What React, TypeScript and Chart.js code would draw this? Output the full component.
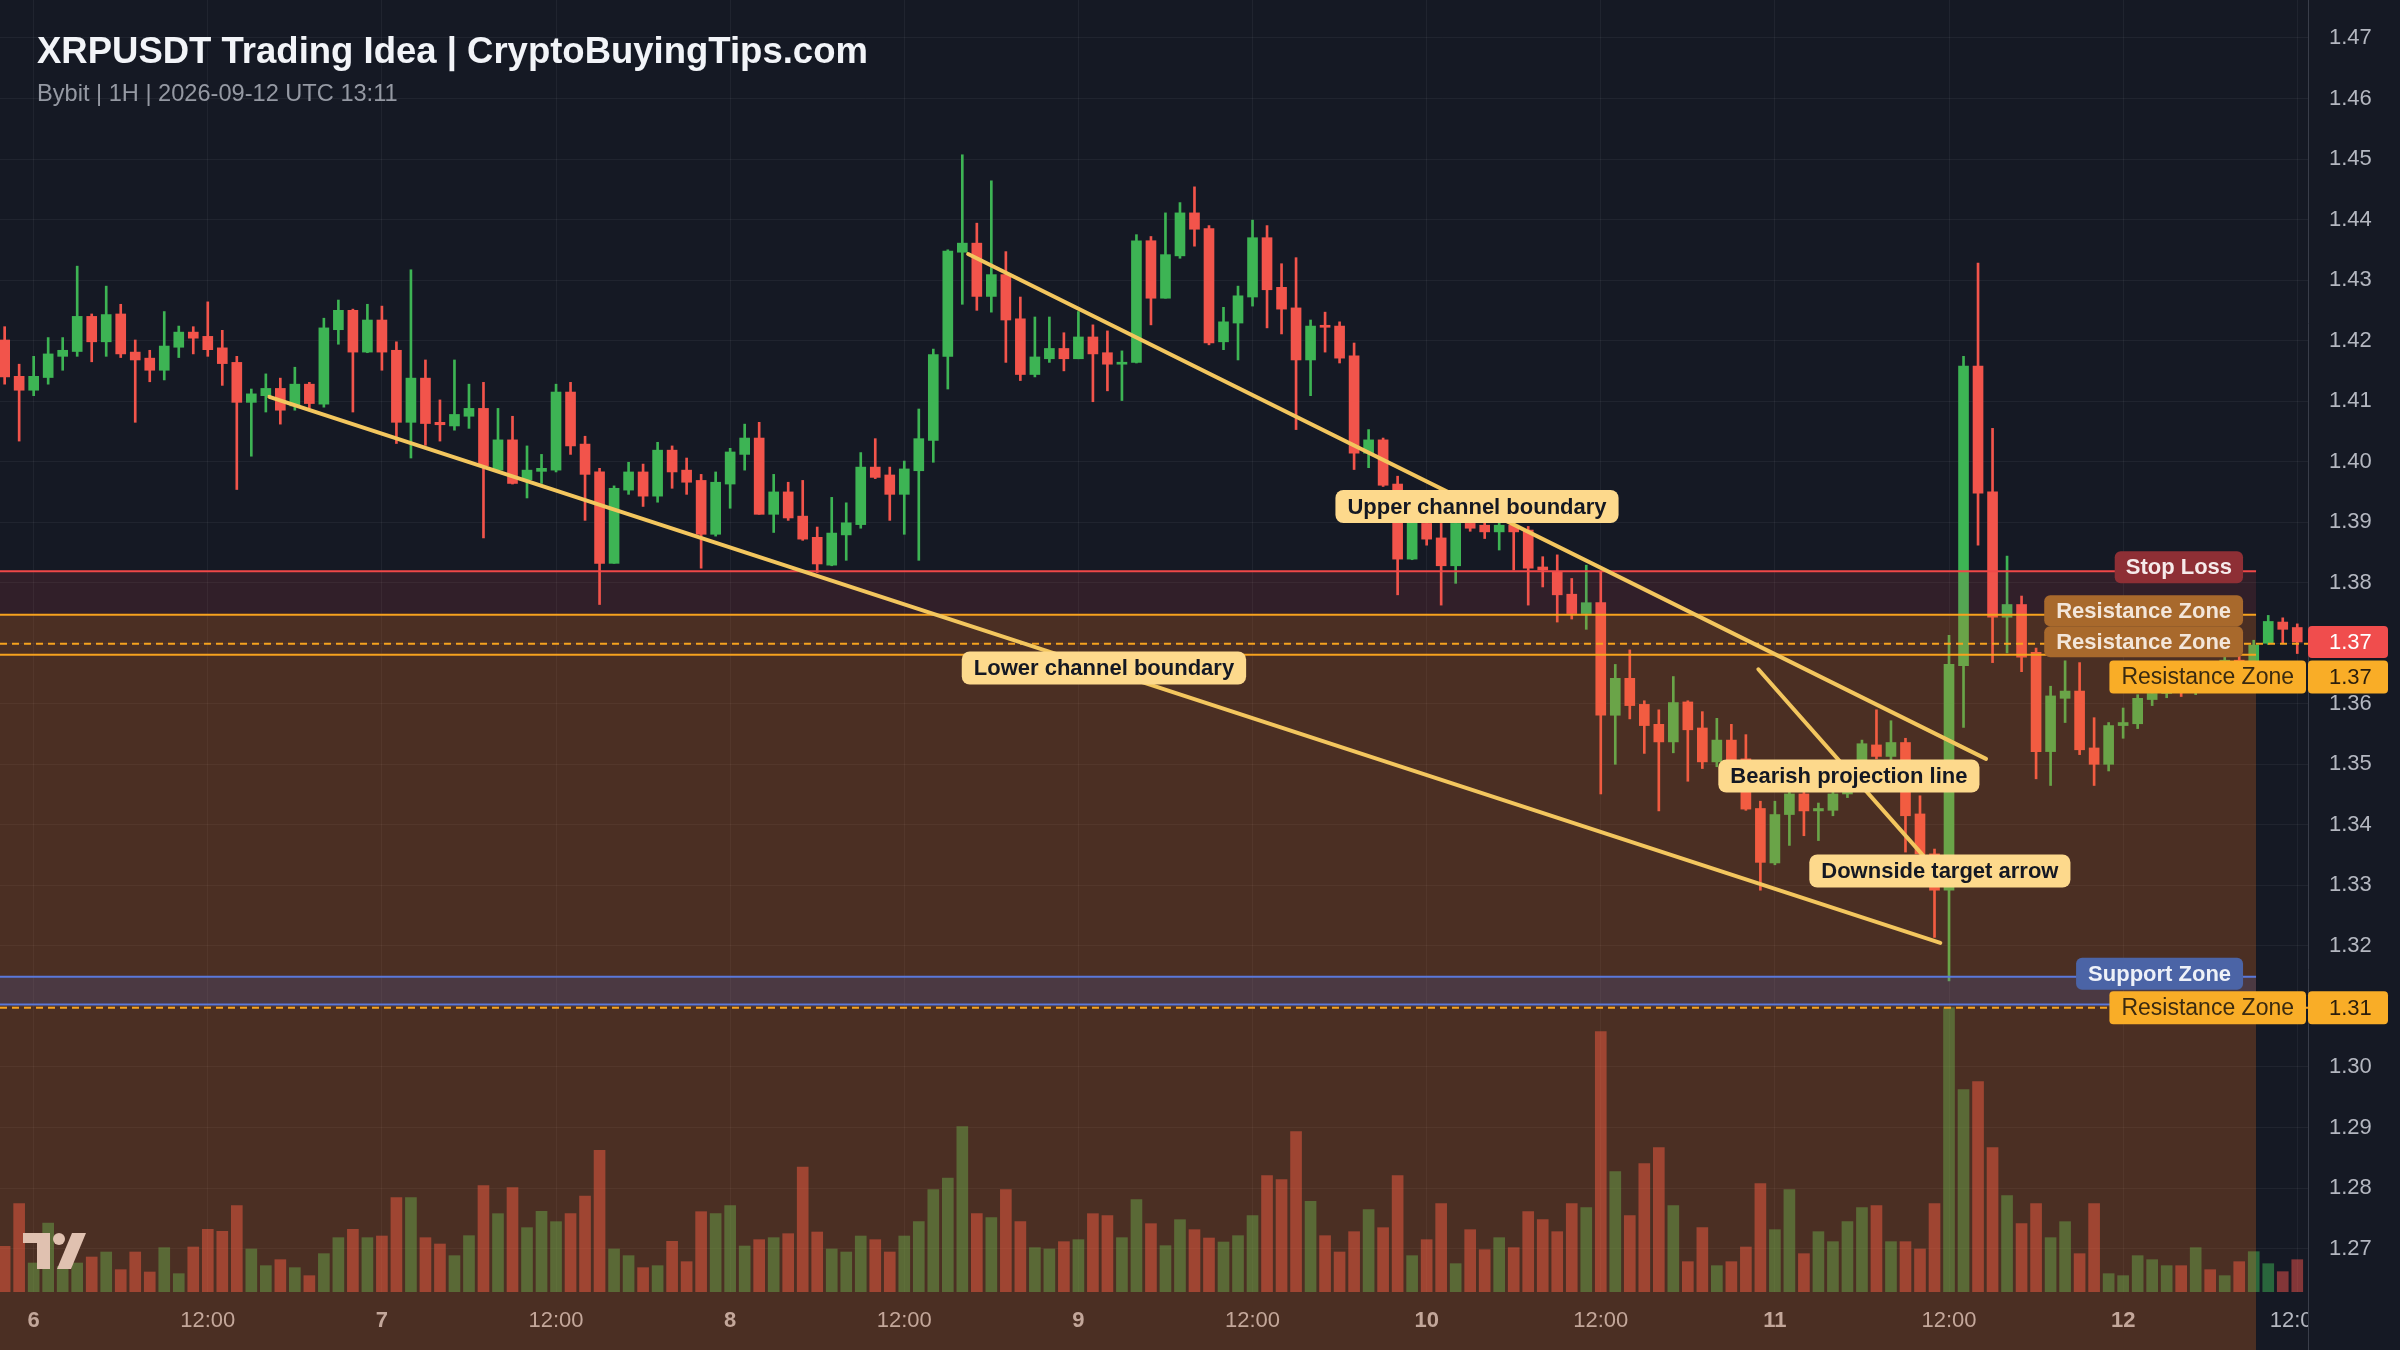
import React, { useEffect, useRef } from "react";
import { Chart, registerables } from "chart.js";

Chart.register(...registerables);

const FONT = "'Liberation Sans', Arial, Helvetica, sans-serif";

// ---------- DATA ----------
// hours relative to 2026-09-06 00:00 UTC (1H candles)
const FIRST_CANDLE_HOUR = -2;
const X_MIN = -2.32;
const X_MAX = 156.74;
const PRICE_MIN = 1.26282;
const PRICE_MAX = 1.47627;
const VOLUME_AXIS_MAX = 3876;

const OPEN = [
  1.4201, 1.4141, 1.4118, 1.4139, 1.4174, 1.4182, 1.424, 1.4198, 1.4244, 1.4181,
  1.4171, 1.4151, 1.4189, 1.4214, 1.4207, 1.4188, 1.4164, 1.4098, 1.4109, 1.4121,
  1.4092, 1.4128, 1.4095, 1.4218, 1.425, 1.4181, 1.4234, 1.4184, 1.4065, 1.4138,
  1.4065, 1.4059, 1.4075, 1.4088, 1.3986, 1.4036, 1.397, 1.3984, 1.3986, 1.4115,
  1.4029, 1.3983, 1.3832, 1.3953, 1.3983, 1.3943, 1.4019, 1.3986, 1.3969, 1.388,
  1.3963, 1.4012, 1.4039, 1.3913, 1.395, 1.391, 1.3875, 1.3829, 1.3879, 1.3896,
  1.3991, 1.3978, 1.3946, 1.3985, 1.4035, 1.4174, 1.4346, 1.4361, 1.4273, 1.4309,
  1.4236, 1.4144, 1.417, 1.4187, 1.417, 1.4206, 1.418, 1.4161, 1.4164, 1.4365,
  1.427, 1.434, 1.4411, 1.4385, 1.4198, 1.4229, 1.4272, 1.437, 1.4288, 1.4254,
  1.4168, 1.4224, 1.4224, 1.4175, 1.4014, 1.4036, 1.3963, 1.3839, 1.3898, 1.3874,
  1.3828, 1.3898, 1.3895, 1.3884, 1.3895, 1.3887, 1.3826, 1.3818, 1.3781, 1.3749,
  1.3767, 1.3581, 1.3642, 1.3599, 1.3566, 1.3537, 1.3603, 1.356, 1.3504, 1.354,
  1.3509, 1.3427, 1.3337, 1.3417, 1.3451, 1.3423, 1.3424, 1.3451, 1.348, 1.3532,
  1.3513, 1.3536, 1.3418, 1.3352, 1.3292, 1.3663, 1.4158, 1.395, 1.3743, 1.3764,
  1.3685, 1.3521, 1.3609, 1.3621, 1.3527, 1.35, 1.3564, 1.3567, 1.3607, 1.3617,
  1.363, 1.3622, 1.3645, 1.3638, 1.3672, 1.3665, 1.37, 1.3735, 1.3726,
];
const HIGH = [
  1.4223, 1.4161, 1.4174, 1.4205, 1.4205, 1.4323, 1.4244, 1.429, 1.426, 1.4201,
  1.4184, 1.4248, 1.4224, 1.4223, 1.4264, 1.4217, 1.4174, 1.412, 1.4145, 1.4138,
  1.4156, 1.4131, 1.4237, 1.4267, 1.4252, 1.426, 1.4257, 1.4198, 1.4317, 1.4168,
  1.4102, 1.4168, 1.4128, 1.4131, 1.4088, 1.4075, 1.4026, 1.4012, 1.4128, 1.4131,
  1.4042, 1.3989, 1.396, 1.3999, 1.3996, 1.4032, 1.4026, 1.4006, 1.3979, 1.3983,
  1.4022, 1.4062, 1.4065, 1.3979, 1.3966, 1.3969, 1.3892, 1.3941, 1.3932, 1.4015,
  1.4038, 1.3991, 1.4001, 1.4087, 1.4186, 1.435, 1.4507, 1.4394, 1.4464, 1.4347,
  1.4272, 1.4239, 1.4239, 1.4213, 1.4248, 1.4226, 1.4216, 1.4183, 1.4375, 1.4372,
  1.4411, 1.4428, 1.4454, 1.439, 1.4255, 1.429, 1.4399, 1.439, 1.4327, 1.4337,
  1.4234, 1.4247, 1.4231, 1.4196, 1.4053, 1.4039, 1.3976, 1.3935, 1.3905, 1.3898,
  1.39, 1.3905, 1.39, 1.39, 1.39, 1.3893, 1.3843, 1.3846, 1.3807, 1.3829,
  1.3818, 1.3665, 1.3689, 1.3605, 1.359, 1.3645, 1.3605, 1.3587, 1.3576, 1.3566,
  1.3549, 1.3439, 1.3439, 1.3457, 1.3457, 1.3436, 1.3457, 1.35, 1.354, 1.359,
  1.3572, 1.3543, 1.3448, 1.336, 1.3713, 1.4174, 1.4328, 1.4055, 1.3844, 1.3778,
  1.3692, 1.3629, 1.3671, 1.3668, 1.3577, 1.3569, 1.3593, 1.3615, 1.3625, 1.3645,
  1.365, 1.366, 1.3662, 1.368, 1.3685, 1.3705, 1.3746, 1.3742, 1.3732,
];
const LOW = [
  1.4128, 1.4034, 1.4109, 1.4128, 1.4151, 1.4174, 1.4165, 1.4174, 1.4172, 1.4065,
  1.4132, 1.4135, 1.4172, 1.4178, 1.4174, 1.4126, 1.3954, 1.4009, 1.4082, 1.4062,
  1.4085, 1.4088, 1.409, 1.4194, 1.4082, 1.418, 1.4151, 1.403, 1.4006, 1.4027,
  1.4034, 1.4052, 1.4055, 1.3874, 1.3985, 1.3963, 1.394, 1.3964, 1.3983, 1.4012,
  1.3903, 1.3764, 1.3832, 1.3946, 1.3926, 1.3933, 1.3956, 1.3946, 1.3824, 1.3877,
  1.3923, 1.3986, 1.3913, 1.3883, 1.3903, 1.387, 1.3817, 1.3828, 1.3837, 1.389,
  1.3972, 1.3903, 1.388, 1.3837, 1.3999, 1.412, 1.426, 1.425, 1.4247, 1.4164,
  1.4134, 1.414, 1.4164, 1.415, 1.417, 1.4099, 1.4117, 1.4101, 1.4163, 1.4226,
  1.427, 1.4336, 1.4356, 1.4193, 1.4185, 1.4168, 1.4257, 1.4221, 1.4211, 1.4053,
  1.4109, 1.4181, 1.4163, 1.3987, 1.399, 1.3959, 1.378, 1.3838, 1.3862, 1.3763,
  1.3799, 1.3885, 1.3873, 1.3854, 1.3821, 1.3763, 1.3793, 1.3735, 1.374, 1.3723,
  1.3451, 1.35, 1.3575, 1.3518, 1.3423, 1.3519, 1.3472, 1.3493, 1.3496, 1.3491,
  1.3424, 1.3292, 1.3334, 1.3366, 1.3382, 1.3374, 1.3415, 1.3445, 1.3475, 1.3509,
  1.3506, 1.3355, 1.334, 1.3214, 1.3142, 1.3561, 1.3862, 1.3668, 1.3684, 1.3653,
  1.3476, 1.3465, 1.3569, 1.3516, 1.3465, 1.3489, 1.3543, 1.3559, 1.3597, 1.361,
  1.3612, 1.3615, 1.3625, 1.363, 1.3655, 1.366, 1.3698, 1.37, 1.3683,
];
const CLOSE = [
  1.414, 1.4118, 1.4141, 1.4178, 1.4184, 1.424, 1.4198, 1.4243, 1.4178, 1.4168,
  1.4151, 1.4191, 1.4214, 1.4204, 1.4185, 1.4162, 1.4098, 1.4112, 1.4121, 1.4085,
  1.4128, 1.4096, 1.4221, 1.425, 1.4181, 1.4234, 1.4181, 1.4065, 1.4138, 1.4063,
  1.4061, 1.4078, 1.4088, 1.3993, 1.4036, 1.3964, 1.3986, 1.3989, 1.4115, 1.4026,
  1.3979, 1.3832, 1.3956, 1.3983, 1.3943, 1.4019, 1.3983, 1.3966, 1.388, 1.3966,
  1.4016, 1.4039, 1.3913, 1.395, 1.3907, 1.3872, 1.3831, 1.3882, 1.3899, 1.3991,
  1.3974, 1.3946, 1.3988, 1.4038, 1.4177, 1.4348, 1.4361, 1.4273, 1.4309, 1.4234,
  1.4144, 1.4173, 1.4187, 1.417, 1.4206, 1.4178, 1.4161, 1.4164, 1.4365, 1.427,
  1.4342, 1.4411, 1.4384, 1.4196, 1.4231, 1.4274, 1.437, 1.4284, 1.4252, 1.4168,
  1.4224, 1.4222, 1.4171, 1.4014, 1.4036, 1.3961, 1.3839, 1.3915, 1.3872, 1.3828,
  1.3898, 1.389, 1.3884, 1.3895, 1.3884, 1.3824, 1.3821, 1.378, 1.3749, 1.3767,
  1.3581, 1.3642, 1.3597, 1.3564, 1.3537, 1.3602, 1.3557, 1.3504, 1.354, 1.3506,
  1.3426, 1.3338, 1.3417, 1.3451, 1.3423, 1.3427, 1.3451, 1.348, 1.3534, 1.3513,
  1.3536, 1.3415, 1.3352, 1.3292, 1.3665, 1.4158, 1.3948, 1.3743, 1.3764, 1.3677,
  1.3521, 1.3613, 1.3621, 1.3524, 1.35, 1.3564, 1.3569, 1.3609, 1.3617, 1.363,
  1.3622, 1.3645, 1.3638, 1.3672, 1.3665, 1.3697, 1.3736, 1.3723, 1.3702,
];
const VOLUME = [
  137, 265, 87, 207, 77, 87, 105, 120, 67, 120,
  60, 133, 55, 135, 188, 182, 259, 129, 79, 97,
  73, 49, 115, 163, 188, 163, 168, 283, 283, 163,
  144, 109, 169, 319, 235, 313, 193, 242, 211, 235,
  288, 425, 129, 109, 73, 79, 152, 91, 241, 235,
  259, 138, 157, 163, 175, 375, 180, 129, 120, 168,
  157, 120, 168, 211, 307, 342, 496, 235, 223, 307,
  211, 133, 129, 151, 157, 235, 229, 163, 277, 205,
  139, 217, 187, 162, 150, 169, 229, 349, 337, 481,
  272, 169, 120, 181, 247, 193, 349, 109, 157, 265,
  85, 187, 127, 163, 133, 241, 217, 181, 265, 253,
  781, 361, 229, 385, 433, 259, 91, 193, 79, 91,
  135, 325, 187, 307, 115, 181, 151, 211, 253, 259,
  151, 151, 129, 265, 853, 607, 631, 433, 289, 205,
  265, 163, 211, 115, 265, 55, 49, 109, 97, 79,
  79, 133, 67, 49, 91, 121, 85, 61, 97,
];

// trend lines (hour, price)
const LOWER_CHANNEL_X = [16.24, 131.4];
const LOWER_CHANNEL_Y = [1.4107, 1.3205];
const UPPER_CHANNEL_X = [64.4, 134.55];
const UPPER_CHANNEL_Y = [1.4343, 1.3509];
const BEARISH_X = [118.86, 130.3];
const BEARISH_Y = [1.3657, 1.3347];

// annotation captions (centre hour, centre price)
const NOTE_TEXT = ["Upper channel boundary", "Lower channel boundary", "Bearish projection line", "Downside target arrow"];
const NOTE_X = [99.47, 73.76, 125.1, 131.37];
const NOTE_Y = [1.39259, 1.36591, 1.34807, 1.33237];

// levels
const STOP_LOSS = 1.3819;
const RESISTANCE_TOP = 1.3747;
const RESISTANCE_MID = 1.3699;
const RESISTANCE_LOW = 1.3681;
const SUPPORT_TOP = 1.3149;
const SUPPORT_BOTTOM = 1.3103;
const RESISTANCE_FLOOR = 1.3098;
const ZONE_END_HOUR = 153.16;
const LAST_PRICE = CLOSE[CLOSE.length - 1];

const TITLE = "XRPUSDT Trading Idea | CryptoBuyingTips.com";
const SUBTITLE = "Bybit | 1H | 2026-09-12 UTC 13:11";

// ---------- STYLE ----------
const BG = "#151924";
const UP = "#3db454";
const DOWN = "#f2544b";
const UP_VOL = "rgba(61,180,84,0.5)";
const DOWN_VOL = "rgba(242,84,75,0.5)";
const GRID = "rgba(255,255,255,0.05)";
const TICK = "#b4b7c0";
const TREND = "#f3c65e";
const ORANGE = "#f6a21e";
const RED_LINE = "#f04848";
const BLUE_LINE = "#5a78da";
const AXIS_LINE = "#3a3e4a";

function pill(ctx: CanvasRenderingContext2D, text: string, font: string, x: number, cy: number, h: number, padX: number, bg: string, fg: string, r: number, anchor: "right" | "left" | "center") {
  ctx.font = font;
  const w = ctx.measureText(text).width + padX * 2;
  let left = x;
  if (anchor === "right") left = x - w;
  if (anchor === "center") left = x - w / 2;
  ctx.fillStyle = bg;
  ctx.beginPath();
  (ctx as any).roundRect(left, cy - h / 2, w, h, r);
  ctx.fill();
  ctx.fillStyle = fg;
  ctx.textBaseline = "middle";
  ctx.textAlign = "left";
  ctx.fillText(text, left + padX, cy + 1);
}

function tag(ctx: CanvasRenderingContext2D, text: string, x0: number, x1: number, cy: number, h: number, bg: string, fg: string, font: string, textX: number) {
  ctx.fillStyle = bg;
  ctx.beginPath();
  (ctx as any).roundRect(x0, cy - h / 2, x1 - x0, h, 4);
  ctx.fill();
  ctx.font = font;
  ctx.fillStyle = fg;
  ctx.textBaseline = "middle";
  ctx.textAlign = "left";
  ctx.fillText(text, textX, cy + 1);
}

const overlayPlugin = {
  id: "overlays",
  afterDatasetDraw(chart: any, args: any) {
    const label = chart.data.datasets[args.index].label;
    const ctx: CanvasRenderingContext2D = chart.ctx;
    if (label === "Volume") {
      // TradingView style watermark
      ctx.save();
      ctx.fillStyle = "#d9d9de";
      ctx.fillRect(23, 1233, 27, 10);
      ctx.fillRect(37, 1233, 13, 36);
      ctx.beginPath();
      ctx.arc(59, 1239, 6, 0, Math.PI * 2);
      ctx.fill();
      ctx.beginPath();
      ctx.moveTo(72, 1233);
      ctx.lineTo(86, 1233);
      ctx.lineTo(71, 1269);
      ctx.lineTo(57, 1269);
      ctx.closePath();
      ctx.fill();
      ctx.restore();
    }
    if (label !== "Candle bodies") return;
    const x = chart.scales.x;
    const y = chart.scales.y;
    const right = x.getPixelForValue(ZONE_END_HOUR);
    const bottom = chart.height;
    ctx.save();
    const ySL = y.getPixelForValue(STOP_LOSS);
    ctx.fillStyle = "rgba(240,80,80,0.13)";
    ctx.fillRect(0, ySL, right, bottom - ySL);
    const yRT = y.getPixelForValue(RESISTANCE_TOP);
    ctx.fillStyle = "rgba(255,152,0,0.13)";
    ctx.fillRect(0, yRT, right, bottom - yRT);
    const yS1 = y.getPixelForValue(SUPPORT_TOP);
    const yS2 = y.getPixelForValue(SUPPORT_BOTTOM);
    ctx.fillStyle = "rgba(80,120,255,0.14)";
    ctx.fillRect(0, yS1, right, yS2 - yS1);
    ctx.restore();
  },
  afterDraw(chart: any) {
    const ctx: CanvasRenderingContext2D = chart.ctx;
    const x = chart.scales.x;
    const y = chart.scales.y;
    const area = chart.chartArea;
    ctx.save();
    // clip the time label that runs under the price scale
    ctx.fillStyle = BG;
    ctx.fillRect(area.right, area.bottom, chart.width - area.right, chart.height - area.bottom);
    ctx.fillStyle = AXIS_LINE;
    ctx.fillRect(area.right, area.bottom, 1, chart.height - area.bottom);

    // title
    ctx.textAlign = "left";
    ctx.textBaseline = "alphabetic";
    ctx.fillStyle = "#f2f4f8";
    ctx.font = `bold 36.5px ${FONT}`;
    ctx.fillText(TITLE, 37, 63);
    ctx.fillStyle = "#9599a3";
    ctx.font = `23.6px ${FONT}`;
    ctx.fillText(SUBTITLE, 37, 101);

    // annotation captions
    const noteFont = `bold 22px ${FONT}`;
    for (let i = 0; i < NOTE_TEXT.length; i++) {
      pill(ctx, NOTE_TEXT[i], noteFont, x.getPixelForValue(NOTE_X[i]), y.getPixelForValue(NOTE_Y[i]), 33, 12, "#fdd98c", "#141823", 8, "center");
    }

    // zone labels
    const zr = x.getPixelForValue(ZONE_END_HOUR) - 13;
    const zf = `bold 22px ${FONT}`;
    pill(ctx, "Stop Loss", zf, zr, y.getPixelForValue(STOP_LOSS) - 4, 32, 11, "#8e2f35", "#f6eaea", 6, "right");
    pill(ctx, "Resistance Zone", zf, zr, y.getPixelForValue(RESISTANCE_TOP) - 4, 31, 12, "#a8692c", "#f3e6da", 6, "right");
    pill(ctx, "Resistance Zone", zf, zr, y.getPixelForValue(RESISTANCE_MID) - 2, 31, 12, "#a8692c", "#f3e6da", 6, "right");
    pill(ctx, "Support Zone", zf, zr, y.getPixelForValue(SUPPORT_TOP) - 3, 32, 12, "#4b64a6", "#eef1f8", 6, "right");

    // price-axis tags
    const axL = area.right;
    const tagR = axL + 80;
    const tf = `22px ${FONT}`;
    const yLast = y.getPixelForValue(LAST_PRICE);
    tag(ctx, LAST_PRICE.toFixed(2), axL, tagR, yLast, 32, "#f04d4d", "#ffffff", tf, axL + 21);
    const yHiTag = Math.max(y.getPixelForValue(RESISTANCE_MID), yLast + 35);
    tag(ctx, RESISTANCE_MID.toFixed(2), axL, tagR, yHiTag, 33, "#f9ad27", "#2a1e0c", tf, axL + 21);
    pill(ctx, "Resistance Zone", `23px ${FONT}`, axL - 2, yHiTag, 33, 12, "#f9ad27", "#3a2a10", 4, "right");
    const yLoTag = y.getPixelForValue(RESISTANCE_FLOOR);
    tag(ctx, RESISTANCE_FLOOR.toFixed(2), axL, tagR, yLoTag, 33, "#f9ad27", "#2a1e0c", tf, axL + 21);
    pill(ctx, "Resistance Zone", `23px ${FONT}`, axL - 2, yLoTag, 33, 12, "#f9ad27", "#3a2a10", 4, "right");
    ctx.restore();
  },
};

function hLine(label: string, price: number, x1: number, color: string, dashed: boolean, width: number) {
  return {
    type: "line" as const,
    label,
    data: [{ x: X_MIN, y: price }, { x: x1, y: price }],
    borderColor: color,
    borderWidth: width,
    borderDash: dashed ? [7, 5] : [],
    pointRadius: 0,
    yAxisID: "y",
    order: 2,
  };
}

function trend(label: string, xs: number[], ys: number[]) {
  return {
    type: "line" as const,
    label,
    data: xs.map((v, i) => ({ x: v, y: ys[i] })),
    borderColor: TREND,
    borderWidth: 4,
    borderCapStyle: "round" as const,
    pointRadius: 0,
    yAxisID: "y",
    order: 1,
  };
}

const noPad = (s: any) => {
  s.paddingTop = 0;
  s.paddingBottom = 0;
  s.paddingLeft = 0;
  s.paddingRight = 0;
};

export default function App() {
  const ref = useRef<HTMLCanvasElement | null>(null);
  useEffect(() => {
    document.body.style.margin = "0";
    document.body.style.background = BG;
    const canvas = ref.current;
    if (!canvas) return;
    const hours = OPEN.map((_, i) => FIRST_CANDLE_HOUR + i);
    const isUp = OPEN.map((o, i) => CLOSE[i] >= o);
    const chart = new Chart(canvas, {
      type: "bar",
      data: {
        datasets: [
          {
            label: "Volume",
            data: VOLUME.map((v, i) => ({ x: hours[i], y: v })),
            backgroundColor: isUp.map((u) => (u ? UP_VOL : DOWN_VOL)),
            barThickness: 11,
            grouped: false,
            yAxisID: "yv",
            order: 5,
          } as any,
          {
            label: "Wicks",
            data: LOW.map((l, i) => ({ x: hours[i], y: [l, HIGH[i]] })),
            backgroundColor: isUp.map((u) => (u ? UP : DOWN)),
            barThickness: 2,
            grouped: false,
            yAxisID: "y",
            order: 4,
          } as any,
          {
            label: "Candle bodies",
            data: OPEN.map((o, i) => ({ x: hours[i], y: [o, CLOSE[i]] })),
            backgroundColor: isUp.map((u) => (u ? UP : DOWN)),
            barThickness: 10,
            minBarLength: 2,
            grouped: false,
            yAxisID: "y",
            order: 3,
          } as any,
          hLine("Stop Loss", STOP_LOSS, ZONE_END_HOUR, RED_LINE, false, 2),
          hLine("Resistance top", RESISTANCE_TOP, ZONE_END_HOUR, ORANGE, false, 2),
          hLine("Resistance mid", RESISTANCE_MID, X_MAX, ORANGE, true, 2),
          hLine("Resistance low", RESISTANCE_LOW, ZONE_END_HOUR, ORANGE, false, 2),
          hLine("Support top", SUPPORT_TOP, ZONE_END_HOUR, BLUE_LINE, false, 2),
          hLine("Support bottom", SUPPORT_BOTTOM, ZONE_END_HOUR, BLUE_LINE, false, 2),
          hLine("Resistance floor", RESISTANCE_FLOOR, X_MAX, ORANGE, true, 2),
          trend("Lower channel boundary", LOWER_CHANNEL_X, LOWER_CHANNEL_Y),
          trend("Upper channel boundary", UPPER_CHANNEL_X, UPPER_CHANNEL_Y),
          trend("Bearish projection line", BEARISH_X, BEARISH_Y),
        ] as any,
      },
      options: {
        responsive: false,
        animation: false,
        devicePixelRatio: 1,
        events: [],
        layout: { padding: 0, autoPadding: false },
        plugins: {
          legend: { display: false },
          tooltip: { enabled: false },
          title: { display: false },
        },
        scales: {
          x: {
            type: "linear",
            min: X_MIN,
            max: X_MAX,
            offset: false,
            grid: { color: GRID, drawTicks: false, offset: false },
            border: { display: false },
            ticks: {
              stepSize: 12,
              includeBounds: false,
              autoSkip: false,
              maxRotation: 0,
              padding: 16,
              color: TICK,
              font: (c: any) => ({
                family: FONT,
                size: 22,
                weight: c.tick && Math.round(c.tick.value) % 24 === 0 ? "bold" : "normal",
              }),
              callback: (v: any) => {
                const h = Math.round(Number(v));
                return h % 24 === 0 ? String(6 + h / 24) : "12:00";
              },
            },
            afterFit: (s: any) => {
              s.height = 58;
              noPad(s);
            },
          },
          y: {
            position: "right",
            min: PRICE_MIN,
            max: PRICE_MAX,
            grid: { color: GRID, drawTicks: false },
            border: { display: true, color: AXIS_LINE, width: 1 },
            ticks: {
              stepSize: 0.01,
              includeBounds: false,
              padding: 21,
              color: TICK,
              font: { family: FONT, size: 22 },
              callback: (v: any) => Number(v).toFixed(2),
            },
            afterFit: (s: any) => {
              s.width = 92;
              noPad(s);
            },
          },
          yv: {
            display: false,
            min: 0,
            max: VOLUME_AXIS_MAX,
            afterFit: noPad,
          },
        },
      } as any,
      plugins: [
        {
          id: "bg",
          beforeDraw(c: any) {
            const ctx = c.ctx;
            ctx.save();
            ctx.fillStyle = BG;
            ctx.fillRect(0, 0, c.width, c.height);
            ctx.restore();
          },
        },
        overlayPlugin,
      ],
    });
    return () => chart.destroy();
  }, []);
  return (
    <div style={{ width: 2400, height: 1350, background: BG }}>
      <canvas ref={ref} width={2400} height={1350} style={{ display: "block", width: 2400, height: 1350 }} />
    </div>
  );
}
